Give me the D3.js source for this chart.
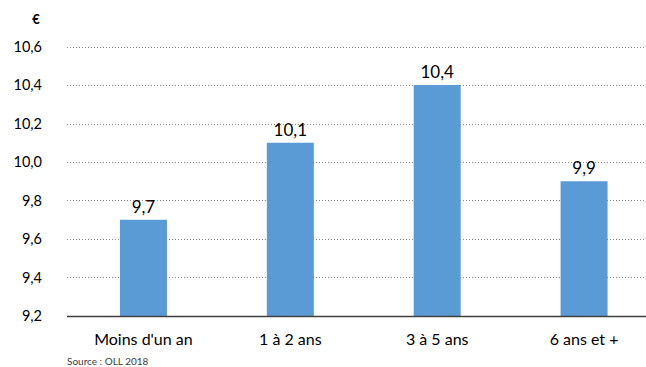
<!DOCTYPE html>
<html>
<head>
<meta charset="utf-8">
<script src="https://cdn.jsdelivr.net/npm/d3@7"></script>
<style>
  body { margin: 0; background: #fff; }
  svg { display: block; font-family: Lato, "Open Sans", sans-serif; }
</style>
</head>
<body>
<svg id="chart" width="646" height="367"></svg>
<script>
const categories = ["Moins d'un an", "1 à 2 ans", "3 à 5 ans", "6 ans et +"];
const values = [9.7, 10.1, 10.4, 9.9];
const yTicks = [9.2, 9.4, 9.6, 9.8, 10.0, 10.2, 10.4, 10.6];

const svg = d3.select("#chart");
const fmt = (v) => d3.format(".1f")(v).replace(".", ",");

const x = d3.scaleBand().domain(categories).range([70, 657.5]).paddingInner(0.68).paddingOuter(0.34);
const y = d3.scaleLinear().domain([9.2, 10.6]).range([316, 46.5]);

const plotLeft = 67;
const plotRight = 646;

// gridlines
svg.append("g")
    .selectAll("line")
    .data(yTicks.slice(1))
    .join("line")
    .attr("x1", plotLeft)
    .attr("x2", plotRight)
    .attr("y1", (d) => Math.round(y(d)) + 0.5)
    .attr("y2", (d) => Math.round(y(d)) + 0.5)
    .attr("stroke", "#8c8c8c")
    .attr("stroke-width", 1)
    .attr("stroke-dasharray", "1,2");

// y tick labels
svg.append("g")
    .selectAll("text")
    .data(yTicks)
    .join("text")
    .attr("x", 42)
    .attr("y", (d) => y(d))
    .attr("dy", "0.35em")
    .attr("text-anchor", "end")
    .attr("font-size", 14.5)
    .attr("fill", "#000")
    .text(fmt);

svg.append("text")
    .attr("x", 36)
    .attr("y", 24)
    .attr("text-anchor", "middle")
    .attr("font-size", 13)
    .attr("font-weight", "bold")
    .text("€");

// bars
svg.append("g")
    .selectAll("rect")
    .data(values)
    .join("rect")
    .attr("x", (d, i) => x(categories[i]))
    .attr("width", x.bandwidth())
    .attr("y", (d) => y(d))
    .attr("height", (d) => y(9.2) - y(d))
    .attr("fill", "#5b9bd5");

// value labels
svg.append("g")
    .selectAll("text")
    .data(values)
    .join("text")
    .attr("x", (d, i) => x(categories[i]) + x.bandwidth() / 2)
    .attr("y", (d) => y(d) - 7)
    .attr("text-anchor", "middle")
    .attr("font-size", 17)
    .attr("fill", "#000")
    .text(fmt);

// x axis line
svg.append("line")
    .attr("x1", plotLeft)
    .attr("x2", plotRight)
    .attr("y1", 316.5)
    .attr("y2", 316.5)
    .attr("stroke", "#404040")
    .attr("stroke-width", 1.3);

// category labels
svg.append("g")
    .selectAll("text")
    .data(categories)
    .join("text")
    .attr("x", (d) => x(d) + x.bandwidth() / 2)
    .attr("y", 345)
    .attr("text-anchor", "middle")
    .attr("font-size", 16)
    .attr("fill", "#000")
    .text((d) => d);

svg.append("text")
    .attr("x", 67)
    .attr("y", 365)
    .attr("font-size", 10)
    .attr("fill", "#404040")
    .text("Source : OLL 2018");
</script>
</body>
</html>
